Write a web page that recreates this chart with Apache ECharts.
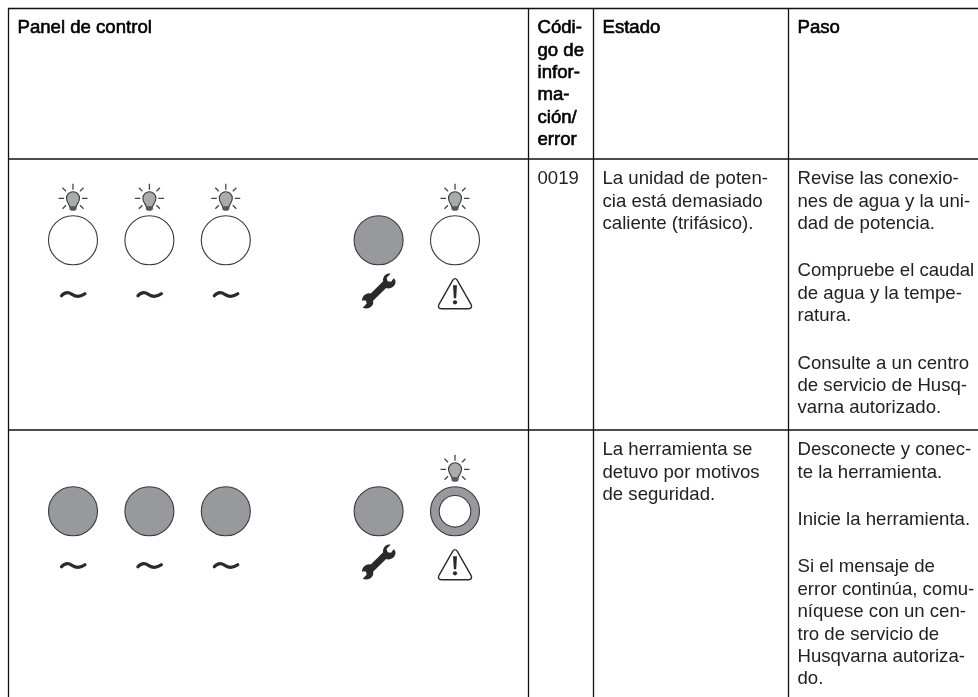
<!DOCTYPE html>
<html>
<head>
<meta charset="utf-8">
<title>Panel de control</title>
<script src="https://cdn.jsdelivr.net/npm/echarts@6/dist/echarts.min.js"></script>
<style>
html, body { margin: 0; padding: 0; background: #fff; }
#main { width: 978px; height: 697px; }
</style>
</head>
<body>
<div id="main"></div>
<script>
// texto de la tabla
var headers = [
    ['Panel de control'],
    ['Códi-', 'go de', 'infor-', 'ma-', 'ción/', 'error'],
    ['Estado'],
    ['Paso']
];
var codes = [['0019'], []];
var states = [
    [['La unidad de poten-', 'cia está demasiado', 'caliente (trifásico).']],
    [['La herramienta se', 'detuvo por motivos', 'de seguridad.']]
];
var steps = [
    [
        ['Revise las conexio-', 'nes de agua y la uni-', 'dad de potencia.'],
        ['Compruebe el caudal', 'de agua y la tempe-', 'ratura.'],
        ['Consulte a un centro', 'de servicio de Husq-', 'varna autorizado.']
    ],
    [
        ['Desconecte y conec-', 'te la herramienta.'],
        ['Inicie la herramienta.'],
        ['Si el mensaje de', 'error continúa, comu-', 'níquese con un cen-', 'tro de servicio de', 'Husqvarna autoriza-', 'do.']
    ]
];

// luces: [ranura, fila, estado, encendida, simbolo]
var lamps = [
    [0, 0, 'open', 1, 'wave'], [1, 0, 'open', 1, 'wave'], [2, 0, 'open', 1, 'wave'],
    [4, 0, 'solid', 0, 'wrench'], [5, 0, 'open', 1, 'warning'],
    [0, 1, 'solid', 0, 'wave'], [1, 1, 'solid', 0, 'wave'], [2, 1, 'solid', 0, 'wave'],
    [4, 1, 'solid', 0, 'wrench'], [5, 1, 'ring', 1, 'warning']
];

var font = '"Liberation Sans", Arial, sans-serif';
var lineColor = '#111';
var iconColor = '#3a3a3c';
var gray = '#98999c';
var inkColor = '#2a2a2c';

// lineas de la tabla
var columnX = [8.5, 528.5, 593.5, 788.5];
var textX = [17.5, 537.5, 602.5, 797.5];
var rowY = [8.5, 159, 430];
var lineStep = 22.4;
var paraGap = 25;

var elements = [];

function rule(x1, y1, x2, y2) {
    elements.push({
        type: 'line',
        shape: { x1: x1, y1: y1, x2: x2, y2: y2 },
        style: { stroke: lineColor, lineWidth: 1.3 }
    });
}
rowY.forEach(function (y) { rule(8, y, 978, y); });
columnX.forEach(function (x) { rule(x, 8, x, 697); });

function textLine(str, x, baseline, bold) {
    // la cabecera es la misma letra con un trazo encima
    elements.push({
        type: 'text',
        x: x,
        y: baseline - 5,
        style: {
            text: str,
            font: '18.6px ' + font,
            fill: bold ? '#000' : '#222',
            stroke: bold ? '#000' : null,
            lineWidth: bold ? 0.6 : 0,
            verticalAlign: 'middle'
        }
    });
}

function cell(paragraphs, x, baseline, bold) {
    var y = baseline;
    paragraphs.forEach(function (lines) {
        lines.forEach(function (l, i) {
            textLine(l, x, y + i * lineStep, bold);
        });
        y += lines.length * lineStep + paraGap;
    });
}

headers.forEach(function (lines, i) { cell([lines], textX[i], 33, true); });
[184, 455].forEach(function (base, r) {
    if (codes[r].length) cell([codes[r]], textX[1], base, false);
    cell(states[r], textX[2], base, false);
    cell(steps[r], textX[3], base, false);
});

// iconos en coordenadas locales, centro de la luz = 0,0
var rays = 'M0 -56.5 L0 -50.5 M-14.5 -42 L-9 -42 M14.5 -42 L9 -42 M-10.5 -52.5 L-7 -49 M10.5 -52.5 L7 -49 M-10.5 -31.5 L-7 -35 M10.5 -31.5 L7 -35';
var bulb = 'M-3 -33 C-3 -35.5 -6.5 -37.5 -6.5 -42 C-6.5 -45.8 -3.6 -48.5 0 -48.5 C3.6 -48.5 6.5 -45.8 6.5 -42 C6.5 -37.5 3 -35.5 3 -33 Z';
var socket = 'M-3.5 -34 L3.5 -34 L3.5 -31 C2.5 -29 -2.5 -29 -3.5 -31 Z';
var wave = 'M-11.5 55.5 C-8 51.5 -4 52 -1 54 C2.5 56.3 7 57 12 53.5';
var wrench = 'M15 38 C17.5 39.5 17.5 43 15.5 45.5 C13 48 10 48.7 7.5 47.8 L-5.5 60.5 C-4.8 63 -5.8 65.5 -8.5 67.2 C-11 68.6 -13.5 68.4 -16 67.5 L-12 63.5 L-12.5 60.5 L-15.5 60 L-16.5 61 C-16.8 58 -15.5 55.5 -13 54 C-11 53 -9.5 52.7 -7.8 53.2 L4.5 41 C4 38.5 5 36 7 34.5 C8.5 33.5 10.5 33 12 33.5 L8 37.5 L9 41 L12.5 41.5 Z';
var warning = 'M-2.2 39.8 L-16 64 Q-18 68 -13.5 68.5 L13.5 68.5 Q18 68 16 64 L2.2 39.8 Q0 36.8 -2.2 39.8 Z';

function iconItem(params, api) {
    var c = api.coord([api.value(0), api.value(1)]);
    var state = api.value(2);
    var lit = api.value(3);
    var sym = api.value(4);
    var kids = [{
        type: 'circle',
        shape: { cx: 0, cy: 0, r: 24.5 },
        style: { fill: state === 'open' ? '#fff' : gray, stroke: iconColor, lineWidth: 1.1 }
    }];
    if (state === 'ring') {
        kids.push({
            type: 'circle',
            shape: { cx: 0, cy: 0, r: 15.8 },
            style: { fill: '#fff', stroke: iconColor, lineWidth: 1.1 }
        });
    }
    if (lit) {
        kids.push({ type: 'path', shape: { pathData: rays }, style: { fill: null, stroke: '#444', lineWidth: 1.3 } });
        kids.push({ type: 'path', shape: { pathData: bulb }, style: { fill: '#a9abad', stroke: iconColor, lineWidth: 1.1 } });
        kids.push({ type: 'path', shape: { pathData: socket }, style: { fill: '#58585a', stroke: null } });
    }
    if (sym === 'wave') {
        kids.push({ type: 'path', shape: { pathData: wave }, style: { fill: null, stroke: inkColor, lineWidth: 3.2, lineCap: 'round' } });
    } else if (sym === 'wrench') {
        kids.push({ type: 'path', shape: { pathData: wrench }, style: { fill: inkColor, stroke: null } });
    } else {
        kids.push({ type: 'path', shape: { pathData: warning }, style: { fill: '#fff', stroke: inkColor, lineWidth: 1.4 } });
        kids.push({ type: 'path', shape: { pathData: 'M-2 45 L2 45 L1.2 58 L-1.2 58 Z' }, style: { fill: inkColor } });
        kids.push({ type: 'circle', shape: { cx: 0, cy: 62, r: 2.1 }, style: { fill: inkColor } });
    }
    return { type: 'group', x: c[0], y: c[1], children: kids };
}

var option = {
    animation: false,
    backgroundColor: '#fff',
    grid: { left: 73, top: 240.3, width: 382, height: 271, containLabel: false },
    xAxis: { type: 'value', min: 0, max: 5, show: false },
    yAxis: { type: 'value', min: 0, max: 1, inverse: true, show: false },
    graphic: { elements: elements },
    series: [{
        type: 'custom',
        clip: false,
        silent: true,
        renderItem: iconItem,
        dimensions: ['slot', 'row', 'state', 'lit', 'symbol'],
        encode: { x: 0, y: 1 },
        data: lamps
    }]
};

var chart = echarts.init(document.getElementById('main'));
chart.setOption(option);
</script>
</body>
</html>
